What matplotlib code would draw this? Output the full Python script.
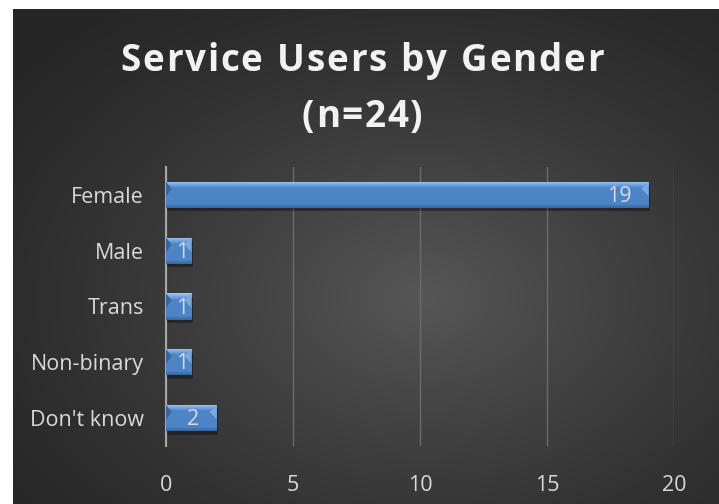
import numpy as np
import matplotlib
matplotlib.use('Agg')
from matplotlib import pyplot as plt
from matplotlib.patches import Rectangle, Polygon


#data:
categories = ['Female', 'Male', 'Trans', 'Non-binary', "Don't know"]
counts     = [19, 1, 1, 1, 2]
xticks     = [0, 5, 10, 15, 20]
title      = ['Service Users by Gender', '(n=24)']

plt.rcParams['font.family'] = ['Open Sans', 'DejaVu Sans']
txtc = '#d9d9d9'

fig = plt.figure(figsize=(7.19, 5.04), dpi=100)
fig.patch.set_facecolor('white')

#background with radial gradient:
bg = fig.add_axes([13/719, 0, 1-13/719, 1-9/504])
bg.set_axis_off()
ny, nx = 200, 280
yy, xx = np.mgrid[0:ny, 0:nx]
cx, cy = nx*0.58, ny*0.58
r = np.sqrt(((xx-cx)/nx)**2 + ((yy-cy)/ny)**2)
r = np.clip(r/0.75, 0, 1)
lo, hi = 0.34, 0.15
g = hi + (lo-hi)*(1-r)**1.3
bg.imshow(np.dstack([g, g, g]), aspect='auto', extent=[0, 1, 0, 1], origin='upper')
bg.set_xlim(0, 1); bg.set_ylim(0, 1)

ax = fig.add_axes([166/719, 1-446/504, 508/719, (446-167)/504])
ax.patch.set_alpha(0)
n = len(categories)
y = np.arange(n)
h = 0.47
ax.set_xlim(0, 20)
ax.set_ylim(n-0.5, -0.5)

#bar colour ramp (top highlight -> body -> dark lower edge)
top = np.array([0.62, 0.80, 0.96])
mid = np.array([0.30, 0.52, 0.78])
bot = np.array([0.22, 0.40, 0.64])
cols = np.zeros((64, 1, 3))
for i, t in enumerate(np.linspace(0, 1, 64)):
    if t < 0.25:
        c = top + (mid-top)*(t/0.25)
    elif t < 0.85:
        c = mid
    else:
        c = mid + (bot-mid)*((t-0.85)/0.15)
    cols[i, 0] = c

for yi, v in zip(y, counts):
    #shadow
    ax.add_patch(Rectangle((0.05, yi-h/2+0.06), v, h, color='black', alpha=0.35, lw=0, zorder=2))
    im = ax.imshow(cols, aspect='auto', extent=[0, v, yi+h/2, yi-h/2], zorder=3, interpolation='bilinear')
    rect = Rectangle((0, yi-h/2), v, h, fill=False, lw=0)
    ax.add_patch(rect)
    im.set_clip_path(rect)
    #bevel corners
    b = 0.22
    ax.add_patch(Polygon([[0, yi-h/2], [b, yi-h/2+0.12], [0, yi-h/2+0.26]], closed=True,
                         color='#3a66a0', lw=0, zorder=4))
    ax.add_patch(Polygon([[v, yi-h/2], [v-b*1.3, yi-h/2+0.12], [v, yi-h/2+0.26]], closed=True,
                         color='#7aa9de', lw=0, zorder=4))
    ax.text(max(v-0.68, 0.87), yi+0.03, str(v), ha='right', va='center', color=txtc,
            fontsize=15.5, zorder=5)

ax.set_xticks(xticks)
ax.set_yticks(y)
ax.set_yticklabels(categories)
ax.grid(axis='x', color='#6b6b6b', lw=1)
ax.set_axisbelow(True)
for s in ['top', 'right', 'bottom']:
    ax.spines[s].set_visible(False)
ax.spines['left'].set_color('#a6a6a6')
ax.spines['left'].set_linewidth(1.5)
ax.tick_params(axis='both', length=0, colors=txtc, labelsize=15.5)
ax.tick_params(axis='x', pad=21)
ax.tick_params(axis='y', pad=16)

#title with letter spacing, laid out char by char
fig.canvas.draw()
rend = fig.canvas.get_renderer()
track = 1.7  #px between letters
fs = 26.5
centres = [(362, 61), (362, 117)]
for line, (cxp, cyp) in zip(title, centres):
    ws = []
    for ch in line:
        t = fig.text(0, 0, ch if ch != ' ' else 'n', fontsize=fs, fontweight='bold')
        w = t.get_window_extent(rend).width
        if ch == ' ':
            w *= 0.45
        ws.append(w)
        t.remove()
    total = sum(ws) + track*(len(line)-1)
    x = cxp - total/2
    for ch, w in zip(line, ws):
        if ch != ' ':
            fig.text(x/719, 1-cyp/504, ch, ha='left', va='center', color='#f2f2f2',
                     fontsize=fs, fontweight='bold')
        x += w + track

fig.savefig('out.png', dpi=100, facecolor=fig.get_facecolor())
